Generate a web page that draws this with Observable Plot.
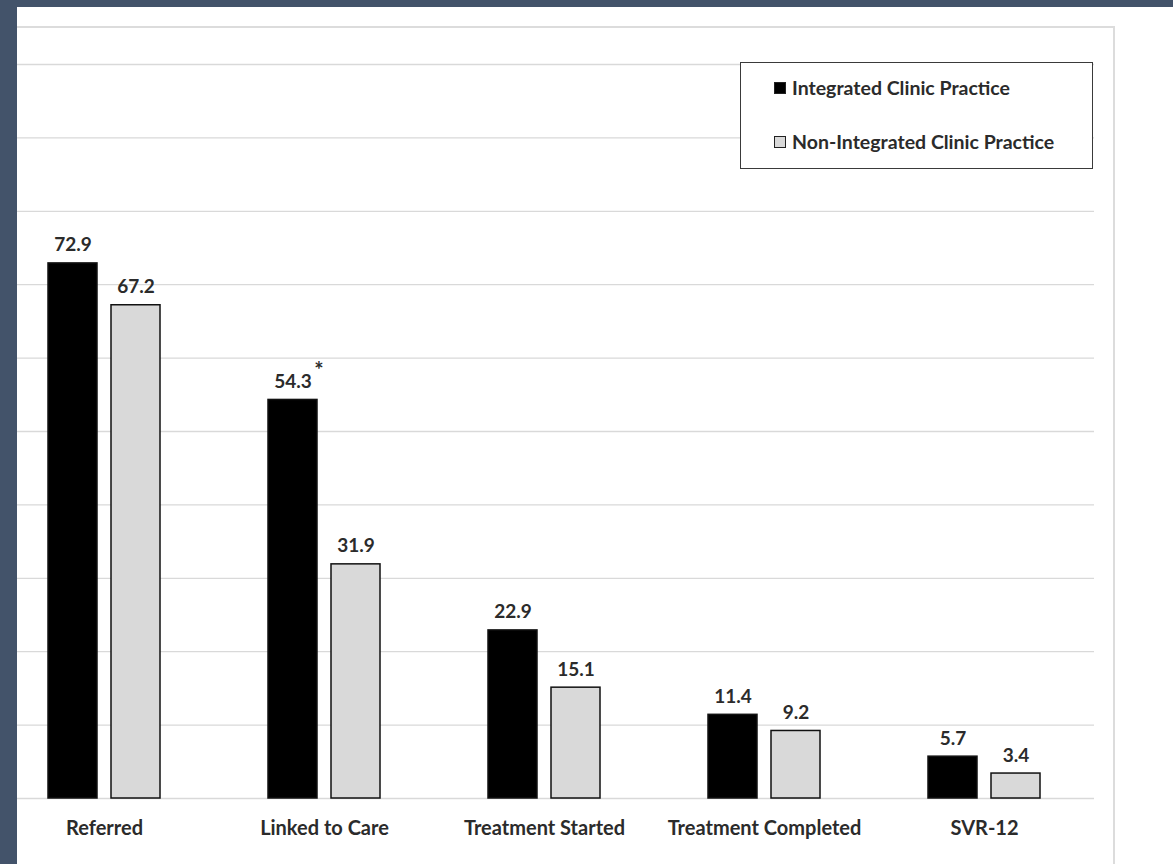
<!DOCTYPE html>
<html>
<head>
<meta charset="utf-8">
<script src="https://cdn.jsdelivr.net/npm/d3@7"></script>
<script src="https://cdn.jsdelivr.net/npm/@observablehq/plot@0.6"></script>
<style>
  html, body { margin: 0; padding: 0; background: #ffffff; }
  #page { position: relative; width: 1173px; height: 864px; overflow: hidden; background: #ffffff; font-family: Lato, "Open Sans", sans-serif; }
  #frame { position: absolute; left: 17px; top: 26px; width: 1096px; height: 836px; border-top: 2px solid #dcdcdc; border-right: 2px solid #dcdcdc; border-bottom: 2px solid #e6e6e6; }
  #chart { position: absolute; left: -7px; top: 0px; }
  #legend { position: absolute; left: 740px; top: 62px; width: 351px; height: 105px; border: 1.5px solid #3a3a3a; background: #fff; }
  .item { position: absolute; left: 33px; display: flex; align-items: center; font-size: 19.5px; font-weight: bold; color: #2b2b2b; white-space: nowrap; }
  .sw { width: 10px; height: 10px; margin-right: 6px; border: 1px solid #222; }
  #bandTop { position: absolute; left: 0; top: 0; width: 1173px; height: 7px; background: #43536a; }
  #bandLeft { position: absolute; left: 0; top: 0; width: 17px; height: 864px; background: #43536a; }
</style>
</head>
<body>
<div id="page">
  <div id="frame"></div>
  <div id="chart"></div>
  <div id="legend"></div>
  <div id="bandTop"></div>
  <div id="bandLeft"></div>
</div>
<script>
const stages = ["Referred", "Linked to Care", "Treatment Started", "Treatment Completed", "SVR-12"];
const seriesNames = ["Integrated Clinic Practice", "Non-Integrated Clinic Practice"];
const integrated = [72.9, 54.3, 22.9, 11.4, 5.7];
const nonIntegrated = [67.2, 31.9, 15.1, 9.2, 3.4];
const integratedNotes = ["", "*", "", "", ""];
const seriesColors = ["#000000", "#d9d9d9"];
const gridTicks = [0, 10, 20, 30, 40, 50, 60, 70, 80, 90, 100];

const rows = [];
stages.forEach((s, i) => {
  rows.push({stage: s, series: seriesNames[0], value: integrated[i], note: integratedNotes[i]});
  rows.push({stage: s, series: seriesNames[1], value: nonIntegrated[i], note: ""});
});

const chart = Plot.plot({
  width: 1180,
  height: 864,
  marginLeft: 0,
  marginRight: 78,
  marginTop: 64,
  marginBottom: 66,
  style: {fontFamily: "Lato, 'Open Sans', sans-serif", color: "#2b2b2b", background: "transparent"},
  fx: {domain: stages, padding: 0, label: null},
  x: {domain: seriesNames, paddingInner: 0.22, paddingOuter: 0.83, axis: null},
  y: {domain: [0, 100], axis: null},
  color: {domain: seriesNames, range: seriesColors},
  marks: [
    Plot.ruleY(gridTicks, {stroke: "#d9d9d9", strokeWidth: 1.3}),
    Plot.barY(rows, {fx: "stage", x: "series", y: "value", fill: "series", stroke: "#111", strokeWidth: 1.5}),
    Plot.text(rows, {fx: "stage", x: "series", y: "value", text: d => d.value.toFixed(1), lineAnchor: "bottom", dy: -12, fontSize: 19, fontWeight: "bold", fill: "#2b2b2b"}),
    Plot.text(rows.filter(d => d.note), {fx: "stage", x: "series", y: "value", text: "note", lineAnchor: "middle", dx: 26, dy: -29, fontSize: 22, fontWeight: "bold", fill: "#2b2b2b"}),
    Plot.axisFx({anchor: "bottom", tickSize: 0, tickPadding: 22, fontSize: 20, fontWeight: "bold", label: null, fill: "#2b2b2b"})
  ]
});
document.getElementById("chart").appendChild(chart);

const legend = document.getElementById("legend");
seriesNames.forEach((name, i) => {
  const item = document.createElement("div");
  item.className = "item";
  item.style.top = (i === 0 ? 13 : 67) + "px";
  const sw = document.createElement("span");
  sw.className = "sw";
  sw.style.background = seriesColors[i];
  const label = document.createElement("span");
  label.textContent = name;
  item.appendChild(sw);
  item.appendChild(label);
  legend.appendChild(item);
});
</script>
</body>
</html>
